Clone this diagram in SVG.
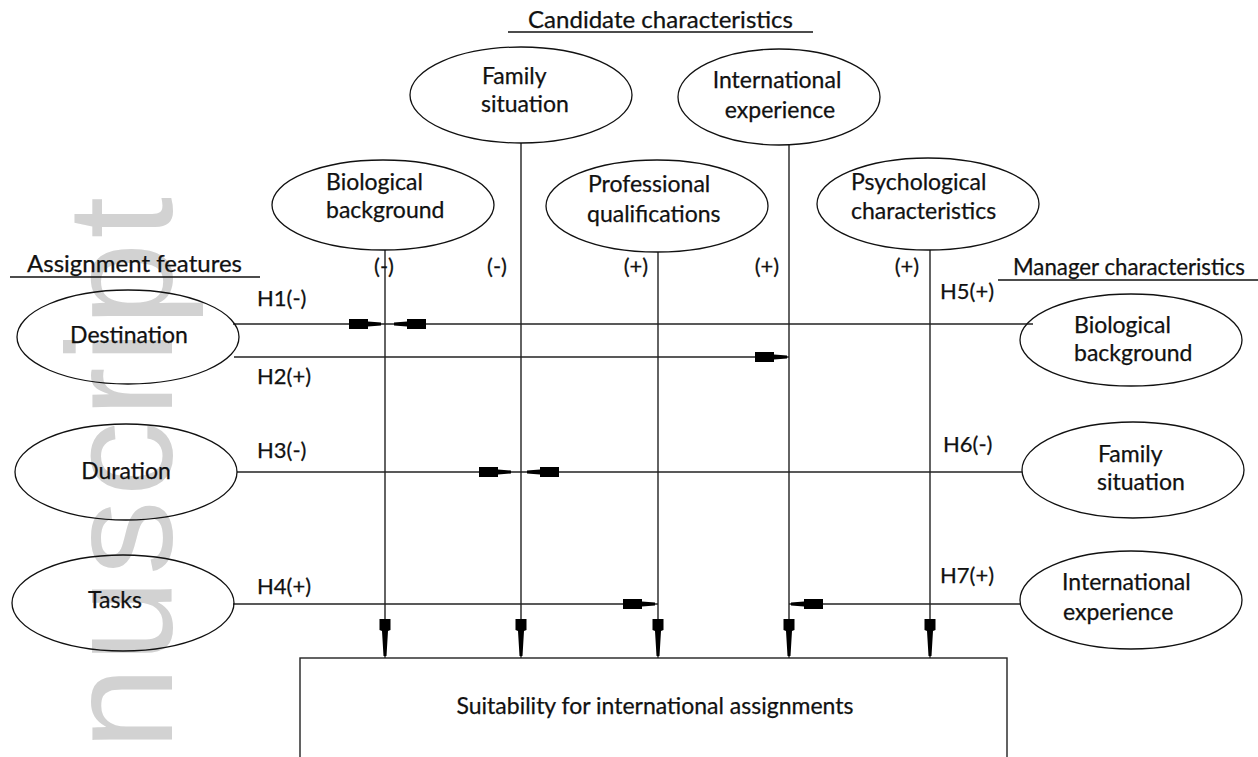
<svg xmlns="http://www.w3.org/2000/svg" xmlns:xlink="http://www.w3.org/1999/xlink" width="1258" height="757" viewBox="0 0 1258 757">
<style>
text{font-family:Lato,"Open Sans","Liberation Sans",sans-serif;fill:#111;font-size:23px;stroke:#111;stroke-width:0.25}
.c{text-anchor:middle}
.h{font-size:22px}
.wm{font-family:"Liberation Sans",Arial,sans-serif;font-size:150px;fill:#d2d2d2;stroke:none;letter-spacing:4px}
ellipse{fill:none;stroke:#111;stroke-width:1.3}
.ln{stroke:#222;stroke-width:1.4;fill:none}
.ul{stroke:#111;stroke-width:1.4}
.ah{fill:#000}
</style>
<defs>
<path id="aR" class="ah" d="M0,-1.5 L-13,-2.5 L-13,-5 L-32,-5 L-32,5 L-13,5 L-13,2.5 L0,1.5 Z"/>
<path id="aD" class="ah" d="M-1.5,0 L-3,-25 L-5.5,-26 L-5.5,-37 L5.5,-37 L5.5,-26 L3,-25 L1.5,0 Z"/>
</defs>
<rect width="1258" height="757" fill="#fff"/>
<text class="wm" transform="translate(172,750) rotate(-90)">nuscript</text>

<g id="title-candidate"><text x="528" y="28" textLength="265" lengthAdjust="spacingAndGlyphs">Candidate characteristics</text><line class="ul" x1="508" y1="32" x2="813" y2="32"/></g>
<g id="title-assignment"><text x="27" y="272" textLength="215" lengthAdjust="spacingAndGlyphs">Assignment features</text><line class="ul" x1="10" y1="277" x2="260" y2="277"/></g>
<g id="title-manager"><text x="1013" y="275" textLength="232" lengthAdjust="spacingAndGlyphs">Manager characteristics</text><line class="ul" x1="998" y1="280" x2="1258" y2="280"/></g>

<g id="connectors">
<line class="ln" x1="385" y1="250" x2="385" y2="658"/>
<line class="ln" x1="521" y1="143" x2="521" y2="658"/>
<line class="ln" x1="658" y1="252" x2="658" y2="658"/>
<line class="ln" x1="789" y1="145" x2="789" y2="658"/>
<line class="ln" x1="930" y1="250" x2="930" y2="658"/>
<line class="ln" x1="233" y1="324" x2="1033" y2="324"/>
<line class="ln" x1="234" y1="357" x2="789" y2="357"/>
<line class="ln" x1="237" y1="472" x2="1022" y2="472"/>
<line class="ln" x1="233" y1="604" x2="658" y2="604"/>
<line class="ln" x1="789" y1="604" x2="1020" y2="604"/>
<use xlink:href="#aR" transform="translate(381,324)"/>
<use xlink:href="#aR" transform="translate(394,324) rotate(180)"/>
<use xlink:href="#aR" transform="translate(787,357)"/>
<use xlink:href="#aR" transform="translate(511,472)"/>
<use xlink:href="#aR" transform="translate(527,472) rotate(180)"/>
<use xlink:href="#aR" transform="translate(655,604)"/>
<use xlink:href="#aR" transform="translate(791,604) rotate(180)"/>
<use xlink:href="#aD" transform="translate(385,656)"/>
<use xlink:href="#aD" transform="translate(521,656)"/>
<use xlink:href="#aD" transform="translate(658,656)"/>
<use xlink:href="#aD" transform="translate(789,656)"/>
<use xlink:href="#aD" transform="translate(930,656)"/>
<text x="257" y="306" class="h">H1(-)</text>
<text x="257" y="384" class="h">H2(+)</text>
<text x="257" y="458" class="h">H3(-)</text>
<text x="257" y="594" class="h">H4(+)</text>
<text x="940" y="299" class="h">H5(+)</text>
<text x="943" y="452" class="h">H6(-)</text>
<text x="940" y="583" class="h">H7(+)</text>
<text x="384" y="274" class="h c">(-)</text>
<text x="497" y="274" class="h c">(-)</text>
<text x="636" y="274" class="h c">(+)</text>
<text x="767" y="274" class="h c">(+)</text>
<text x="907" y="274" class="h c">(+)</text>
</g>

<g id="cand-family"><ellipse cx="521" cy="95" rx="111" ry="48"/><text x="482" y="84">Family</text><text x="481" y="112">situation</text></g>
<g id="cand-international"><ellipse cx="779" cy="97" rx="101" ry="48"/><text class="c" x="777" y="88">International</text><text class="c" x="780" y="118">experience</text></g>
<g id="cand-biological"><ellipse cx="383" cy="205" rx="111" ry="45"/><text x="326" y="190">Biological</text><text x="326" y="218">background</text></g>
<g id="cand-professional"><ellipse cx="657" cy="206" rx="111" ry="46"/><text x="588" y="192">Professional</text><text x="587" y="222">qualifications</text></g>
<g id="cand-psychological"><ellipse cx="928" cy="204" rx="111" ry="46"/><text x="851" y="190">Psychological</text><text x="851" y="219">characteristics</text></g>

<g id="assign-destination"><ellipse cx="128" cy="337" rx="111" ry="47"/><text class="c" x="129" y="343">Destination</text></g>
<g id="assign-duration"><ellipse cx="126" cy="472" rx="111" ry="48"/><text class="c" x="126" y="479">Duration</text></g>
<g id="assign-tasks"><ellipse cx="123" cy="603" rx="111" ry="48"/><text class="c" x="115" y="608">Tasks</text></g>

<g id="mgr-biological"><ellipse cx="1131" cy="340" rx="111" ry="46"/><text x="1074" y="333">Biological</text><text x="1074" y="361">background</text></g>
<g id="mgr-family"><ellipse cx="1133" cy="470" rx="111" ry="48"/><text x="1098" y="462">Family</text><text x="1097" y="490">situation</text></g>
<g id="mgr-international"><ellipse cx="1131" cy="600" rx="111" ry="49"/><text x="1062" y="590">International</text><text x="1063" y="620">experience</text></g>

<g id="suitability"><rect x="300" y="658" width="707" height="110" fill="none" stroke="#222" stroke-width="1.4"/><text class="c" x="655" y="714" style="font-size:23px">Suitability for international assignments</text></g>
</svg>
